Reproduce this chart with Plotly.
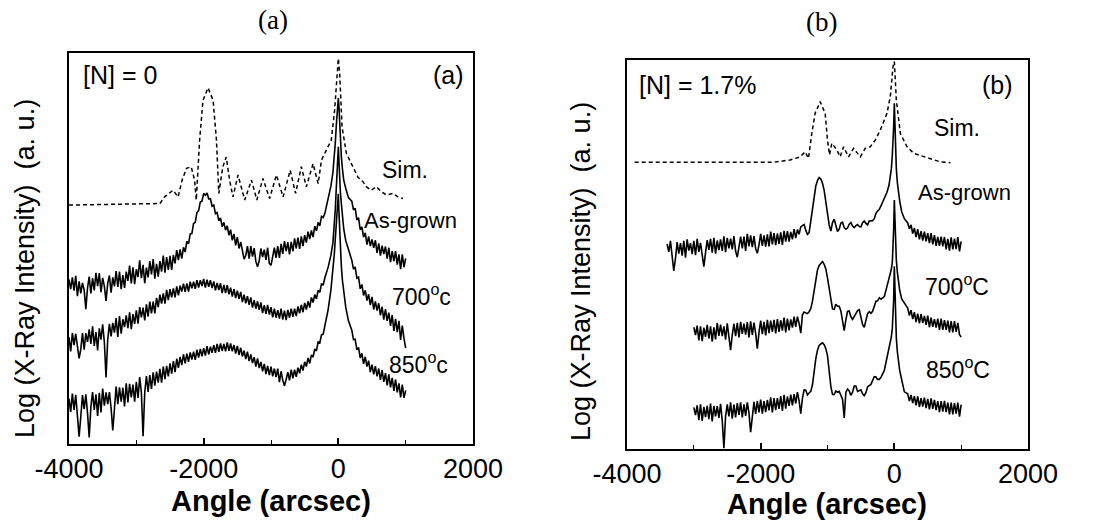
import plotly.graph_objects as go

W, H = 1093, 529

# ---------------- Panel (a) data: [N] = 0 ----------------
x_a = [-4000, -3975, -3950, -3925, -3900, -3875, -3850, -3825, -3800, -3775,
       -3750, -3725, -3700, -3675, -3650, -3625, -3600, -3575, -3550, -3525,
       -3500, -3475, -3450, -3425, -3400, -3375, -3350, -3325, -3300, -3275,
       -3250, -3225, -3200, -3175, -3150, -3125, -3100, -3075, -3050, -3025,
       -3000, -2975, -2950, -2925, -2900, -2875, -2850, -2825, -2800, -2775,
       -2750, -2725, -2700, -2675, -2650, -2625, -2600, -2575, -2550, -2525,
       -2500, -2475, -2450, -2425, -2400, -2375, -2350, -2325, -2300, -2275,
       -2250, -2225, -2200, -2175, -2150, -2125, -2100, -2075, -2050, -2025,
       -2000, -1975, -1950, -1925, -1900, -1875, -1850, -1825, -1800, -1775,
       -1750, -1725, -1700, -1675, -1650, -1625, -1600, -1575, -1550, -1525,
       -1500, -1475, -1450, -1425, -1400, -1375, -1350, -1325, -1300, -1275,
       -1250, -1225, -1200, -1175, -1150, -1125, -1100, -1075, -1050, -1025,
       -1000, -975, -950, -925, -900, -875, -850, -825, -800, -775,
       -750, -725, -700, -675, -650, -625, -600, -575, -550, -525,
       -500, -475, -450, -425, -400, -375, -350, -325, -300, -275,
       -250, -225,
       -200, -150, -110, -80, -60, -45, -30, -20, -10, 0, 10, 20, 30, 45, 60, 80, 110, 150, 200,
       225, 250, 275, 300, 325, 350, 375, 400, 425, 450, 475, 500, 525, 550, 575, 600,
       625, 650, 675, 700, 725, 750, 775, 800, 825, 850, 875, 900, 925, 950, 975, 1000]

asgrown_a = [42.1, 39.6, 42.6, 39.2, 43.0, 37.8, 41.6, 38.5, 41.2, 39.4,
             34.5, 39.9, 42.8, 38.5, 42.4, 39.3, 43.8, 40.4, 43.7, 38.8,
             42.5, 40.3, 36.6, 41.1, 43.1, 38.7, 42.6, 40.3, 44.2, 40.2,
             44.1, 39.6, 43.2, 39.9, 44.1, 41.7, 45.6, 41.1, 45.2, 40.9,
             44.7, 42.7, 47.0, 42.4, 45.8, 41.1, 45.1, 42.6, 46.8, 43.4,
             47.3, 42.3, 46.1, 42.8, 46.8, 44.1, 48.2, 43.8, 47.8, 44.5,
             48.1, 44.5, 48.3, 46.2, 49.6, 47.0, 49.8, 47.4, 50.3, 49.1,
             51.8, 51.2, 53.7, 53.8, 56.4, 56.7, 59.2, 59.7, 61.9, 62.1,
             64.1, 63.6, 64.2, 62.7, 62.7, 60.8, 61.1, 58.9, 59.2, 57.1,
             57.8, 55.6, 56.7, 54.7, 55.8, 53.4, 54.8, 52.1, 53.7, 50.8,
             52.9, 50.0, 51.7, 49.1, 47.3, 48.2, 50.6, 47.4, 50.6, 47.9,
             50.1, 46.7, 45.3, 46.9, 50.0, 47.8, 49.7, 47.1, 50.2, 46.2,
             45.7, 47.9, 50.2, 47.6, 50.6, 47.6, 51.2, 48.6, 51.9, 49.3,
             51.6, 48.5, 51.7, 49.3, 52.6, 50.0, 52.8, 49.9, 53.1, 50.6,
             53.4, 51.5, 54.3, 52.4, 54.6, 52.9, 55.7, 54.5, 56.7, 55.8,
             58.2, 57.9,
             59.0, 62.9, 66.0, 69.5, 73.0, 77.0, 81.5, 84.5, 87.0, 88.5, 86.0, 82.0, 77.5, 73.5, 70.5, 67.5, 65.4, 63.0, 62.1,
             59.9, 60.3, 57.3, 57.9, 54.8, 55.5, 52.9, 54.0, 51.0, 53.1, 50.6, 52.3, 50.2, 52.1, 48.9, 51.3,
             48.2, 50.7, 48.6, 50.5, 47.4, 50.2, 46.5, 49.3, 46.8, 49.3, 45.9, 48.5, 44.7, 48.5, 45.2, 47.5]

c700_a = [27.3, 23.7, 28.4, 25.3, 28.2, 25.3, 21.9, 24.2, 28.4, 24.1,
          28.3, 26.1, 29.3, 25.6, 30.1, 25.1, 28.6, 23.9, 29.6, 26.7,
          30.6, 26.1, 17.0, 26.7, 30.7, 27.5, 31.0, 28.5, 32.2, 27.4,
          32.7, 28.2, 31.9, 29.9, 32.9, 29.6, 33.7, 29.4, 33.2, 30.7,
          34.2, 30.8, 35.0, 32.4, 34.9, 31.6, 35.7, 32.6, 36.4, 33.4,
          36.4, 33.4, 37.4, 35.0, 38.2, 35.9, 38.5, 35.9, 39.4, 36.8,
          39.6, 37.5, 39.8, 37.5, 40.3, 38.0, 40.5, 39.0, 41.0, 38.9,
          41.1, 39.0, 41.5, 39.8, 41.5, 39.7, 41.9, 40.0, 41.9, 40.4,
          42.2, 40.0, 42.0, 40.2, 41.9, 39.9, 41.6, 39.3, 41.2, 39.4,
          41.1, 38.6, 40.7, 38.6, 40.6, 38.3, 40.0, 37.7, 39.6, 37.3,
          39.2, 37.1, 38.9, 36.3, 38.2, 36.0, 37.8, 35.6, 37.5, 34.9,
          36.8, 34.6, 36.5, 34.3, 36.2, 33.5, 35.5, 33.3, 35.6, 33.1,
          35.0, 32.4, 34.6, 32.3, 34.2, 32.1, 34.6, 31.8, 34.1, 31.7,
          34.3, 32.3, 34.6, 32.5, 34.6, 32.7, 35.2, 33.4, 35.6, 33.7,
          36.1, 34.4, 36.5, 34.9, 37.5, 36.2, 38.2, 37.1, 39.3, 38.8,
          41.0, 40.6,
          42.5, 45.3, 48.3, 51.5, 55.5, 60.0, 65.5, 70.0, 73.5, 76.0, 72.0, 67.5, 64.5, 61.5, 58.0, 55.0, 52.0, 49.8, 47.0,
          44.7, 45.3, 42.4, 42.7, 39.7, 40.8, 38.0, 39.3, 36.7, 38.3, 35.5, 37.6, 34.4, 36.5, 34.1, 36.0,
          32.9, 35.1, 31.8, 34.5, 31.5, 33.6, 30.2, 33.0, 28.9, 32.0, 28.6, 31.5, 26.6, 30.3, 27.0, 24.5]

c850_a = [11.6, 8.2, 12.9, 8.7, 12.6, 7.3, 1.9, 6.9, 12.5, 8.9,
          12.7, 7.9, 1.7, 9.5, 13.3, 8.7, 12.7, 7.2, 13.1, 8.1,
          14.2, 9.8, 13.2, 10.2, 13.3, 9.2, 3.5, 9.0, 14.7, 10.2,
          14.5, 10.8, 14.4, 9.6, 15.5, 10.6, 15.4, 11.9, 15.2, 10.8,
          15.9, 11.8, 17.1, 13.1, 2.0, 13.2, 17.4, 13.3, 17.6, 14.1,
          18.3, 14.9, 18.5, 15.7, 19.2, 15.7, 19.8, 16.6, 20.0, 17.3,
          20.6, 18.0, 21.2, 18.4, 21.8, 19.5, 22.3, 20.2, 22.9, 20.6,
          23.1, 21.0, 23.4, 21.6, 23.6, 21.5, 24.1, 22.1, 24.3, 22.4,
          24.5, 22.6, 25.0, 22.9, 24.9, 23.3, 25.3, 23.3, 25.6, 23.6,
          25.7, 23.8, 25.6, 23.7, 26.0, 23.8, 25.7, 23.7, 25.3, 23.1,
          25.1, 22.8, 24.6, 22.4, 23.9, 21.7, 23.6, 21.2, 22.9, 20.7,
          22.2, 19.8, 21.9, 19.4, 21.0, 18.6, 20.5, 17.9, 20.0, 17.6,
          19.8, 17.3, 19.3, 17.1, 19.3, 15.8, 18.6, 16.3, 14.9, 16.5,
          18.4, 16.3, 19.0, 16.8, 19.0, 17.2, 19.5, 18.1, 20.3, 18.8,
          21.0, 19.8, 22.0, 20.6, 22.8, 22.2, 24.3, 23.8, 26.1, 25.9,
          27.9, 28.1,
          30.0, 34.5, 39.5, 44.5, 48.5, 52.5, 57.0, 60.0, 62.5, 64.0, 59.0, 54.0, 50.0, 45.4, 42.0, 38.5, 35.0, 31.5, 29.1,
          26.7, 26.8, 24.1, 24.7, 22.0, 23.2, 20.5, 22.3, 19.8, 21.3, 18.4, 20.3, 17.8, 19.9, 17.3, 19.3,
          16.4, 18.9, 15.9, 18.1, 15.0, 17.8, 14.5, 16.9, 13.6, 16.5, 13.2, 15.5, 11.9, 15.2, 11.8, 13.7]

sim_a_x = [-4000, -3550, -3050, -2650, -2580, -2455, -2380, -2320, -2255, -2185,
           -2135, -2110, -2060, -2010, -1935, -1860, -1810, -1775, -1715, -1665,
           -1615, -1565, -1490, -1390, -1290, -1210, -1120, -1020, -920, -820,
           -715, -635, -550, -475, -375, -300, -250, -180, -105, -55,
           -20, 0, 20, 55, 120, 170, 220, 290, 365, 415,
           490, 565, 640, 715, 810, 885, 960]
sim_a_y = [61.1, 61.3, 61.4, 61.5, 63.2, 64.9, 63.2, 67.5, 70.5, 70.9,
           67.5, 62.4, 77.7, 87.9, 91.1, 87.9, 77.7, 64.1, 70.9, 73.4,
           67.5, 63.2, 68.8, 62.4, 67.5, 62.4, 67.9, 62.8, 68.8, 63.2,
           70.0, 64.1, 70.9, 65.8, 71.7, 66.6, 72.6, 75.1, 77.7, 85.4,
           94.7, 98.6, 94.7, 81.1, 74.3, 72.6, 70.9, 68.3, 67.1, 65.8,
           64.9, 65.8, 64.5, 63.7, 64.1, 63.2, 62.8]

# ---------------- Panel (b) data: [N] = 1.7% ----------------
x_b = [-3400, -3375, -3350, -3325, -3300, -3275, -3250, -3225, -3200, -3175,
       -3150, -3125, -3100, -3075, -3050, -3025,
       -3000, -2975, -2950, -2925, -2900, -2875, -2850, -2825, -2800, -2775,
       -2750, -2725, -2700, -2675, -2650, -2625, -2600, -2575, -2550, -2525,
       -2500, -2475, -2450, -2425, -2400, -2375, -2350, -2325, -2300, -2275,
       -2250, -2225, -2200, -2175, -2150, -2125, -2100, -2075, -2050, -2025,
       -2000, -1975, -1950, -1925, -1900, -1875, -1850, -1825, -1800, -1775,
       -1750, -1725, -1700, -1675, -1650, -1625, -1600, -1575, -1550, -1525,
       -1500, -1475, -1450, -1425, -1400, -1375, -1350, -1325, -1300, -1275,
       -1250, -1225, -1200, -1175, -1150, -1125, -1100, -1075, -1050, -1025,
       -1000, -975, -950, -925, -900, -875, -850, -825, -800, -775,
       -750, -725, -700, -675, -650, -625, -600, -575, -550, -525,
       -500, -475, -450, -425, -400, -375, -350, -325, -300, -275,
       -250, -225,
       -200, -150, -110, -80, -60, -45, -30, -20, -10, 0, 10, 20, 30, 45, 60, 80, 110, 150, 200,
       225, 250, 275, 300, 325, 350, 375, 400, 425, 450, 475, 500, 525, 550, 575, 600,
       625, 650, 675, 700, 725, 750, 775, 800, 825, 850, 875, 900, 925, 950, 975, 1000]

asgrown_b = [52.7, 50.7, 53.5, 49.3, 45.8, 48.9, 53.2, 50.2, 52.9, 49.7,
             53.5, 49.2, 53.9, 51.0, 52.9, 50.1, 53.5, 49.8, 54.0, 50.7,
             53.0, 49.9, 46.9, 50.5, 53.7, 51.2, 54.0, 50.5, 54.3, 50.2,
             53.6, 51.1, 53.9, 50.9, 54.7, 50.6, 54.3, 51.6, 54.1, 51.3,
             54.7, 50.9, 49.3, 51.9, 54.6, 51.6, 54.6, 50.9, 55.3, 52.1,
             54.9, 51.9, 54.7, 51.5, 50.3, 52.5, 55.3, 52.2, 54.9, 52.0,
             55.2, 52.1, 55.9, 52.6, 55.5, 52.4, 55.4, 52.7, 55.7, 52.5,
             56.1, 53.3, 56.0, 53.3, 55.8, 53.9, 56.5, 54.2, 56.4, 55.2,
             57.1, 57.4, 57.7, 56.2, 55.2, 55.6, 58.5, 62.0, 65.5, 67.6,
             69.0, 69.8, 69.4, 68.3, 66.5, 63.5, 60.0, 57.6, 56.0, 58.2,
             59.1, 57.3, 55.9, 56.5, 58.1, 58.3, 56.9, 56.5, 56.8, 57.8,
             58.2, 57.3, 56.9, 57.4, 57.7, 57.2, 57.1, 58.2, 58.6, 58.0,
             57.6, 58.6, 58.7, 58.7, 59.2, 60.6, 61.2, 61.6,
             62.5, 64.5, 66.0, 67.8, 70.0, 72.0, 75.5, 78.5, 82.9, 88.9, 82.0, 76.0, 72.0, 68.5, 66.2, 63.8, 61.0, 59.2, 58.1,
             56.6, 57.6, 55.4, 56.8, 54.5, 56.5, 53.9, 56.0, 53.6, 55.9, 53.4, 55.5, 52.9, 55.5, 52.6, 55.0,
             52.2, 54.5, 52.2, 54.6, 52.1, 54.5, 51.3, 54.0, 51.0, 54.4, 51.3, 54.1, 51.4, 54.5, 50.8, 53.4]

c700_b = [None] * 16 + [
          31.3, 29.3, 31.7, 27.9, 31.5, 27.7, 31.2, 28.8, 31.9, 28.4,
          31.5, 27.6, 31.3, 28.2, 32.4, 29.1, 32.0, 29.0, 31.5, 28.1,
          32.3, 28.5, 25.4, 29.3, 32.2, 29.0, 32.4, 28.7, 32.7, 29.6,
          32.2, 29.4, 32.6, 28.7, 32.8, 29.3, 32.5, 29.7, 25.8, 30.0,
          33.0, 29.5, 32.7, 29.2, 33.2, 29.8, 33.0, 30.1, 33.2, 29.7,
          33.4, 30.1, 33.1, 30.4, 33.8, 30.0, 33.5, 30.5, 33.3, 31.2,
          34.0, 31.4, 34.0, 32.3, 29.8, 34.5, 35.2, 35.0, 34.8, 35.3,
          36.1, 38.0, 40.9, 43.8, 46.0, 47.2, 47.8, 48.2, 47.5, 46.3,
          44.0, 41.5, 38.4, 36.0, 35.9, 37.2, 36.7, 36.7, 35.5, 33.0,
          30.4, 33.2, 35.4, 35.5, 34.0, 33.3, 34.1, 35.1, 35.6, 35.8,
          33.9, 32.0, 31.3, 33.0, 34.8, 35.3, 34.9, 35.4, 36.7, 38.0,
          38.1, 38.9,
          38.5, 39.2, 41.8, 43.7, 45.0, 46.2, 48.0, 51.0, 56.5, 64.0, 57.0, 51.5, 48.5, 45.5, 43.0, 40.8, 38.6, 37.5, 36.2,
          34.3, 35.7, 33.4, 35.2, 32.6, 34.8, 32.3, 34.7, 32.4, 34.2, 31.9, 34.3, 31.3, 33.8, 31.4, 33.4,
          31.2, 33.5, 30.6, 33.5, 30.6, 33.1, 30.6, 33.0, 30.0, 32.9, 30.0, 32.9, 30.1, 32.4, 29.4, 28.8]

c850_b = [None] * 16 + [
          10.7, 8.7, 11.2, 7.4, 11.5, 7.2, 10.8, 8.2, 11.1, 7.7,
          11.7, 7.1, 11.1, 8.4, 11.0, 8.0, 11.6, 7.3, 0.2, 8.4,
          11.5, 8.4, 12.0, 7.8, 11.4, 8.1, 11.8, 8.8, 12.0, 8.1,
          11.5, 8.5, 12.0, 9.3, 4.3, 8.4, 12.1, 9.0, 12.3, 9.4,
          12.7, 9.1, 12.3, 9.5, 12.6, 9.9, 13.3, 9.4, 13.1, 10.0,
          13.1, 10.3, 13.6, 9.8, 13.9, 10.4, 13.5, 11.1, 14.0, 11.2,
          14.1, 11.7, 14.6, 12.4, 9.1, 13.1, 15.2, 15.1, 13.9, 14.4,
          14.8, 16.5, 20.3, 23.2, 25.4, 26.6, 27.0, 27.3, 26.8, 25.8,
          24.0, 20.0, 16.1, 14.0, 14.0, 14.9, 14.6, 14.8, 13.7, 12.8,
          8.0, 14.6, 15.4, 14.9, 13.8, 14.6, 16.2, 16.2, 14.8, 15.1,
          15.2, 14.2, 13.7, 14.5, 16.0, 16.3, 16.6, 17.6, 18.6, 18.5,
          17.9, 17.9,
          18.4, 20.2, 23.3, 25.8, 27.3, 28.8, 31.0, 34.0, 38.3, 47.0, 39.0, 33.0, 28.5, 25.0, 22.5, 20.2, 17.8, 14.7, 14.2,
          12.3, 13.9, 11.8, 13.6, 11.2, 13.5, 10.8, 13.1, 10.9, 13.2, 10.5, 12.9, 10.2, 13.0, 10.3, 12.6,
          10.0, 12.3, 9.5, 12.3, 9.6, 12.4, 9.5, 11.9, 8.9, 11.9, 8.9, 11.8, 9.1, 11.9, 8.3, 11.4]

sim_b_x = [-3885, -2810, -1810, -1560, -1410, -1335, -1285, -1235, -1185, -1110,
           -1035, -1000, -970, -935, -860, -810, -760, -685, -610, -510,
           -435, -360, -285, -210, -110, -60, -20, 0, 30, 90,
           190, 290, 440, 590, 690, 840]
sim_b_y = [73.7, 73.7, 73.7, 74.3, 75.1, 76.4, 74.7, 81.1, 86.3, 89.3,
           86.3, 79.4, 75.6, 78.6, 76.9, 75.1, 77.7, 75.1, 77.3, 75.1,
           77.3, 77.7, 79.4, 82.0, 86.3, 90.6, 98.3, 99.6, 89.7, 81.1,
           77.7, 76.0, 75.1, 74.3, 73.8, 73.6]

tick_vals = [-4000, -2000, 0, 2000]
tick_text = ["-4000", "-2000", "0", "2000"]
minor_vals = [-3000, -1000, 1000]

for arr in (asgrown_a, c700_a, c850_a):
    assert len(arr) == len(x_a), (len(arr), len(x_a))
for arr in (asgrown_b, c700_b, c850_b):
    assert len(arr) == len(x_b), (len(arr), len(x_b))
assert len(sim_a_x) == len(sim_a_y)
assert len(sim_b_x) == len(sim_b_y)

SANS = "Liberation Sans, Arial, sans-serif"
SERIF = "Liberation Serif, Times New Roman, serif"

fig = go.Figure()


def solid(x, y, xa, ya):
    fig.add_trace(go.Scatter(x=x, y=y, mode="lines", xaxis=xa, yaxis=ya,
                             line=dict(color="black", width=1.6),
                             showlegend=False, hoverinfo="skip", connectgaps=False))


def dashed(x, y, xa, ya):
    fig.add_trace(go.Scatter(x=x, y=y, mode="lines", xaxis=xa, yaxis=ya,
                             line=dict(color="black", width=1.5, dash="4px,3px"),
                             showlegend=False, hoverinfo="skip"))


dashed(sim_a_x, sim_a_y, "x", "y")
solid(x_a, asgrown_a, "x", "y")
solid(x_a, c700_a, "x", "y")
solid(x_a, c850_a, "x", "y")

dashed(sim_b_x, sim_b_y, "x2", "y2")
solid(x_b, asgrown_b, "x2", "y2")
solid(x_b, c700_b, "x2", "y2")
solid(x_b, c850_b, "x2", "y2")


def xaxis_cfg(dom, anchor):
    return dict(domain=dom, anchor=anchor, range=[-4000, 2000], automargin=False,
                tickmode="array", tickvals=tick_vals, ticktext=tick_text,
                ticks="inside", ticklen=6, tickwidth=1.5, tickcolor="black",
                minor=dict(tickmode="array", tickvals=minor_vals, ticks="inside",
                           ticklen=4, tickwidth=1.2, tickcolor="black"),
                showline=True, mirror=True, linecolor="black", linewidth=1.5,
                showgrid=False, zeroline=False,
                tickfont=dict(family=SANS, size=27, color="black"))


def yaxis_cfg(dom, anchor):
    return dict(domain=dom, anchor=anchor, range=[0, 100], automargin=False,
                showticklabels=False, ticks="",
                showline=True, mirror=True, linecolor="black", linewidth=1.5,
                showgrid=False, zeroline=False)


fig.update_layout(
    width=W, height=H, margin=dict(l=0, r=0, t=0, b=0, autoexpand=False),
    paper_bgcolor="white", plot_bgcolor="white",
    xaxis=xaxis_cfg([69 / W, 473 / W], "y"),
    yaxis=yaxis_cfg([1 - 444 / H, 1 - 53 / H], "x"),
    xaxis2=xaxis_cfg([627 / W, 1028 / W], "y2"),
    yaxis2=yaxis_cfg([1 - 449 / H, 1 - 60 / H], "x2"),
)


def ann(text, x, y, size, family=SANS, bold=False, angle=0):
    if bold:
        text = "<b>" + text + "</b>"
    fig.add_annotation(text=text, x=x / W, y=1 - y / H, xref="paper", yref="paper",
                       xanchor="center", yanchor="middle", showarrow=False,
                       textangle=angle, font=dict(family=family, size=size, color="black"))


# panel titles
ann("(a)", 273, 20, 27, SERIF)
ann("(b)", 821, 22, 27, SERIF)
# axis titles
ann("Angle (arcsec)", 271, 501, 29, bold=True)
ann("Angle (arcsec)", 827, 504, 29, bold=True)
ann("Log (X-Ray Intensity)\u00a0 (a. u.)", 25, 269, 27, angle=-90)
ann("Log (X-Ray Intensity)\u00a0 (a. u.)", 581, 272, 27, angle=-90)
# panel (a) labels
ann("[N] = 0", 120, 75, 25)
ann("(a)", 448, 75, 25)
ann("Sim.", 405, 170, 23)
ann("As-grown", 410, 220, 22)
ann("700<sup>o</sup>c", 421, 295, 23)
ann("850<sup>o</sup>c", 418, 363, 23)
# panel (b) labels
ann("[N] = 1.7%", 698, 85, 25)
ann("(b)", 997, 85, 25)
ann("Sim.", 957, 128, 23)
ann("As-grown", 964, 193, 22)
ann("700<sup>o</sup>C", 957, 285, 23)
ann("850<sup>o</sup>C", 958, 368, 23)

fig.write_html("out.html", config={"displayModeBar": False},
               post_script="document.body.style.margin='0';")
